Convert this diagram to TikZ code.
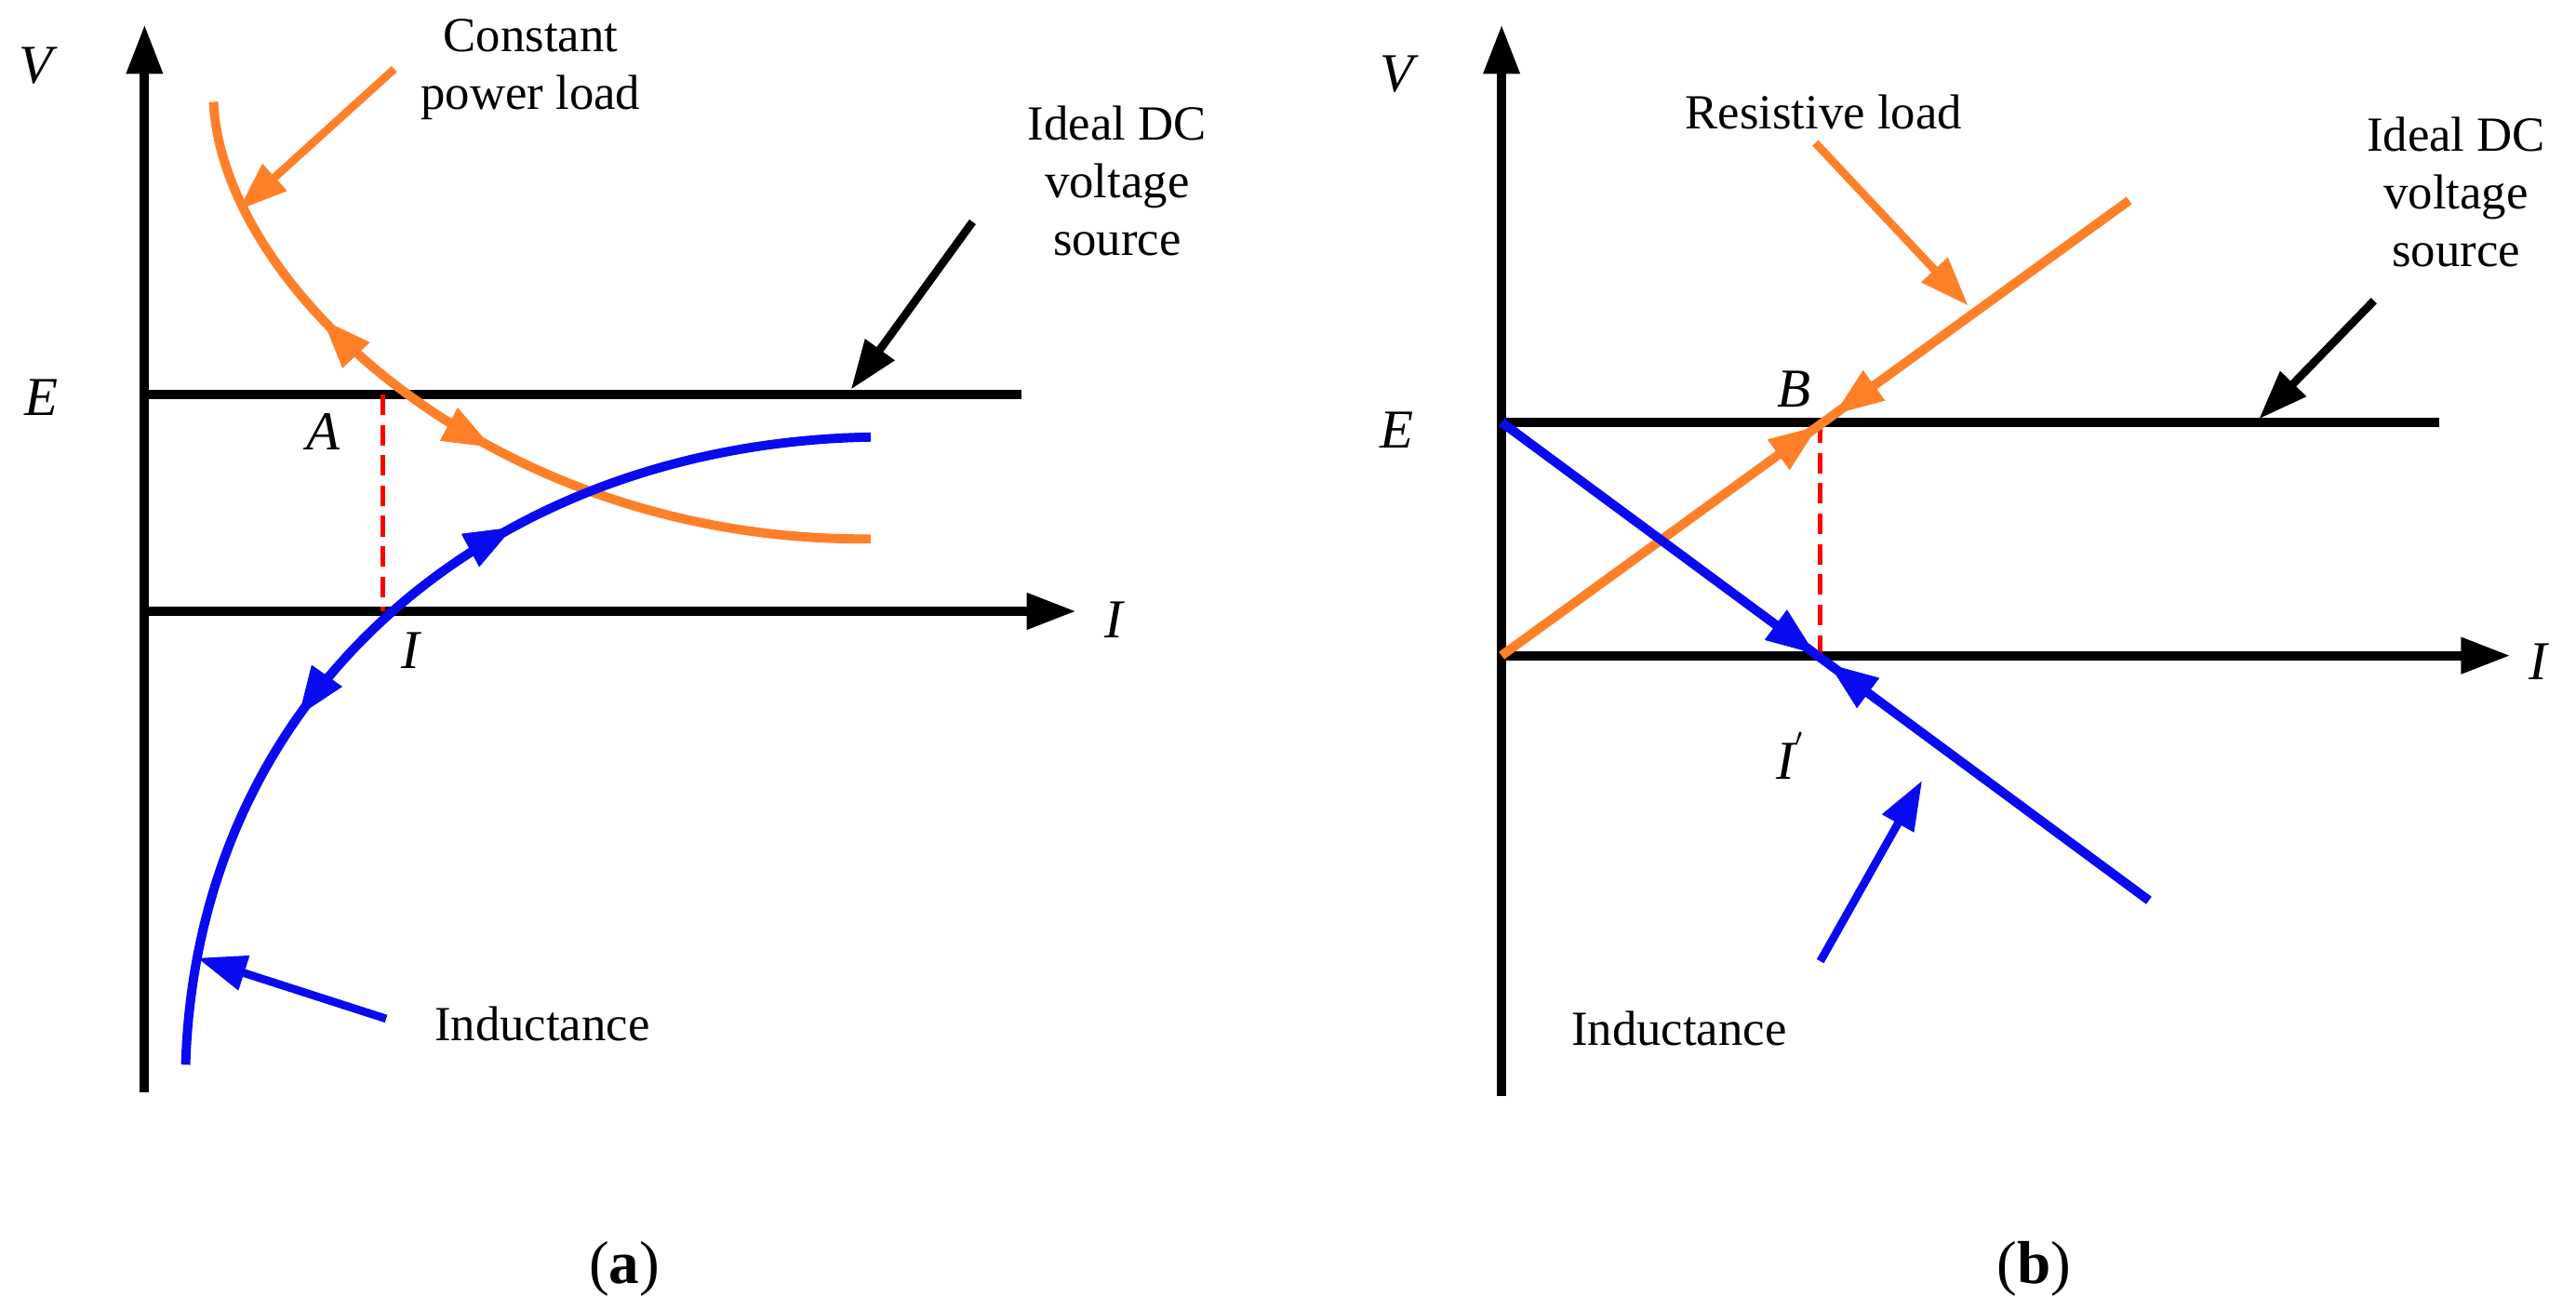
\documentclass[tikz,border=0pt]{standalone}
\usepackage{fontspec}
\setmainfont{Liberation Serif}
\usetikzlibrary{arrows.meta,decorations.markings}
\begin{document}
\begin{tikzpicture}[x=0.02cm,y=-0.02cm,
  tip/.style={-{Triangle[length=0.6cm,width=0.42cm]}},
  ax/.style={line width=3.2pt,tip},
  ln/.style={line width=3.2pt},
  ptr/.style={line width=2.8pt,tip},
  dsh/.style={red,line width=1.8pt,dash pattern=on 0.25cm off 0.12cm},
  lab/.style={font=\fontsize{17}{20}\selectfont,align=center,inner sep=0pt},
  var/.style={font=\fontsize{19}{22}\selectfont\itshape,inner sep=0pt},
  mk/.style={postaction={decorate},decoration={markings,mark=at position #1 with {\arrow{Triangle[length=0.6cm,width=0.42cm]}}}},
  rmk/.style={postaction={decorate},decoration={markings,mark=at position #1 with {\arrowreversed{Triangle[length=0.6cm,width=0.42cm]}}}}]
\definecolor{org}{RGB}{255,128,40}
\definecolor{blu}{RGB}{10,10,240}
\useasboundingbox (0,0) rectangle (1568,789);
% ---------- (a)
\coordinate (oa) at (88,665); \coordinate (va) at (88,15);
\coordinate (i0a) at (88,372); \coordinate (i1a) at (655,372);
\coordinate (e0a) at (88,240); \coordinate (e1a) at (622,240);
\draw[ax] (oa) -- (va);
\draw[ax] (i0a) -- (i1a);
\draw[ln] (e0a) -- (e1a);
\coordinate (pa) at (233,240); \coordinate (qa) at (233,372);
\draw[dsh] (pa) -- (qa);
\draw[org,line width=3.2pt,rmk=0.29,mk=0.54] (130,62) .. controls (135,175) and (300,330) .. (530,328);
\draw[blu,line width=3.2pt,rmk=0.36,mk=0.64] (113,648) .. controls (120,420) and (300,270) .. (530,266);
\node[var] (V1) at (22,40) {V};
\node[var] (E1) at (25,242) {E};
\node[var] (I1) at (678,377) {I};
\node[var] (A) at (197,263) {A};
\node[var] (Ia) at (250,396) {I};
\node[lab] (cpl) at (323,42) {Constant\\power load};
\node[lab] (ida) at (680,110) {Ideal DC\\voltage\\source};
\node[lab] (ina) at (330,623) {Inductance};
\coordinate (c1) at (240,42); \coordinate (c2) at (145,128);
\coordinate (k1) at (592,135); \coordinate (k2) at (518,237);
\coordinate (b1) at (235,620); \coordinate (b2) at (120,583);
\draw[ptr,org] (c1) -- (c2);
\draw[ptr] (k1) -- (k2);
\draw[ptr,blu] (b1) -- (b2);
\node[lab,font=\fontsize{21}{24}\selectfont] (ta) at (380,772) {(\textbf{a})};
% ---------- (b)
\coordinate (ob) at (914,667); \coordinate (vb) at (914,15);
\coordinate (i0b) at (914,399); \coordinate (i1b) at (1528,399);
\coordinate (e0b) at (914,257); \coordinate (e1b) at (1485,257);
\draw[ax] (ob) -- (vb);
\draw[ax] (i0b) -- (i1b);
\draw[ln] (e0b) -- (e1b);
\coordinate (pb) at (1108,257); \coordinate (qb) at (1108,399);
\draw[dsh] (pb) -- (qb);
\coordinate (r0) at (914,399); \coordinate (r1) at (1296,122);
\draw[org,line width=3.2pt,mk=0.505,rmk=0.53] (r0) -- (r1);
\coordinate (l0) at (914,257); \coordinate (l1) at (1308,548);
\draw[blu,line width=3.2pt,mk=0.485,rmk=0.505] (l0) -- (l1);
\node[var] (V2) at (850,45) {V};
\node[var] (E2) at (850,262) {E};
\node[var] (I2) at (1545,403) {I};
\node[var] (B) at (1092,237) {B};
\node[var] (Ib) at (1090,460) {I$^{'}$};
\node[lab] (rl) at (1110,68) {Resistive load};
\node[lab] (idb) at (1495,117) {Ideal DC\\voltage\\source};
\node[lab] (inb) at (1022,626) {Inductance};
\coordinate (d1) at (1105,87); \coordinate (d2) at (1198,186);
\coordinate (m1) at (1445,183); \coordinate (m2) at (1375,255);
\coordinate (n1) at (1108,585); \coordinate (n2) at (1170,475);
\draw[ptr,org] (d1) -- (d2);
\draw[ptr] (m1) -- (m2);
\draw[ptr,blu] (n1) -- (n2);
\node[lab,font=\fontsize{21}{24}\selectfont] (tb) at (1238,772) {(\textbf{b})};
\end{tikzpicture}
\end{document}
